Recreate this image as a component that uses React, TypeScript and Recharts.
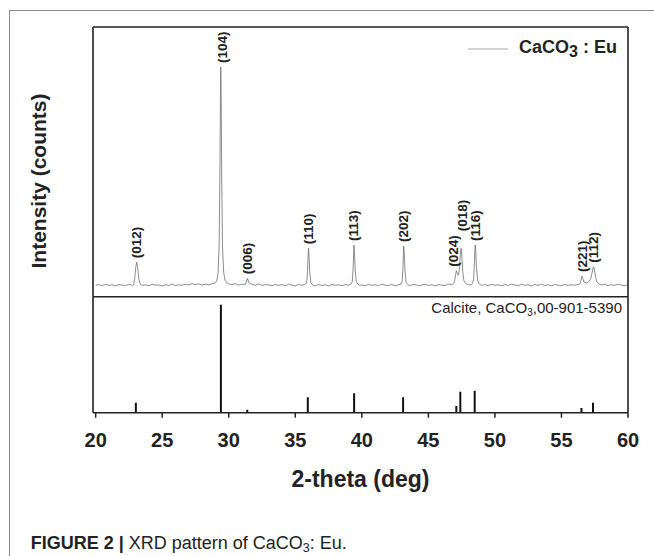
import React from 'react';
import { ComposedChart, Line, Scatter, Bar, XAxis, YAxis } from 'recharts';

const FONT = '"Liberation Sans", Arial, Helvetica, sans-serif';
const INK = '#222';
const W = 654;
const H = 556;

// measured scan, [2-theta (deg), counts]
const scan: [number, number][] = [
  [20.0, 115], [20.25, 121], [20.5, 110], [20.75, 124], [21.0, 113], [21.25, 119], [21.5, 108],
  [21.75, 122], [22.0, 116], [22.25, 111], [22.5, 125], [22.75, 114],
  [22.85, 120], [22.95, 200], [23.02, 300], [23.09, 345], [23.16, 290], [23.24, 180], [23.35, 125],
  [23.5, 112], [23.75, 120], [24.0, 109], [24.25, 123], [24.5, 115], [24.75, 118], [25.0, 107],
  [25.25, 121], [25.5, 113], [25.75, 126], [26.0, 111], [26.25, 119], [26.5, 115], [26.75, 124],
  [27.0, 118], [27.25, 131], [27.5, 122], [27.75, 128], [28.0, 116], [28.25, 125], [28.5, 119],
  [28.75, 130], [29.0, 138],
  [29.1, 160], [29.2, 240], [29.28, 520], [29.34, 1300], [29.38, 2050], [29.4, 2300], [29.43, 2000],
  [29.47, 1200], [29.53, 500], [29.62, 240], [29.72, 165], [29.85, 140],
  [30.0, 128], [30.25, 122], [30.5, 131], [30.75, 117], [31.0, 125], [31.2, 119],
  [31.3, 140], [31.41, 185], [31.52, 138],
  [31.75, 124], [32.0, 115], [32.25, 127], [32.5, 112], [32.75, 121], [33.0, 118], [33.25, 109],
  [33.5, 123], [33.75, 114], [34.0, 120], [34.25, 111], [34.5, 124], [34.75, 116], [35.0, 108],
  [35.25, 122], [35.5, 115], [35.75, 126],
  [35.85, 135], [35.92, 250], [35.96, 400], [35.99, 485], [36.03, 420], [36.08, 260], [36.17, 140],
  [36.3, 118], [36.5, 109], [36.75, 121], [37.0, 113], [37.25, 119], [37.5, 107], [37.75, 124],
  [38.0, 114], [38.25, 118], [38.5, 110], [38.75, 122], [39.0, 115], [39.2, 128],
  [39.28, 150], [39.35, 290], [39.39, 450], [39.41, 517], [39.45, 430], [39.5, 270], [39.58, 150],
  [39.7, 125],
  [39.85, 113], [40.0, 118], [40.25, 109], [40.5, 123], [40.75, 114], [41.0, 120], [41.25, 110],
  [41.5, 125], [41.75, 116], [42.0, 112], [42.25, 121], [42.5, 108], [42.75, 119], [42.95, 126],
  [43.03, 150], [43.09, 290], [43.13, 450], [43.15, 507], [43.19, 430], [43.24, 270], [43.32, 145],
  [43.45, 122],
  [43.6, 111], [43.75, 118], [44.0, 123], [44.25, 110], [44.5, 117], [44.75, 125], [45.0, 113],
  [45.25, 120], [45.5, 108], [45.75, 122], [46.0, 116], [46.25, 111], [46.5, 126], [46.75, 119],
  [46.9, 130],
  [46.98, 165], [47.05, 225], [47.1, 260], [47.16, 235], [47.24, 215], [47.33, 270], [47.4, 420],
  [47.47, 485], [47.52, 400], [47.58, 250], [47.67, 160], [47.8, 130],
  [48.0, 122], [48.2, 118], [48.32, 135],
  [48.4, 175], [48.46, 340], [48.5, 480], [48.52, 517], [48.56, 460], [48.61, 300], [48.7, 160],
  [48.82, 128],
  [49.0, 114], [49.25, 121], [49.5, 110], [49.75, 124], [50.0, 115], [50.25, 119], [50.5, 109],
  [50.75, 122], [51.0, 113], [51.25, 126], [51.5, 117], [51.75, 111], [52.0, 123], [52.25, 115],
  [52.5, 120], [52.75, 108], [53.0, 121], [53.25, 114], [53.5, 125], [53.75, 112], [54.0, 119],
  [54.25, 109], [54.5, 122], [54.75, 116], [55.0, 111], [55.25, 124], [55.5, 113], [55.75, 120],
  [56.0, 115], [56.25, 123], [56.4, 130],
  [56.47, 165], [56.52, 195], [56.55, 207], [56.6, 185], [56.68, 150], [56.78, 142],
  [56.9, 138], [57.05, 150],
  [57.2, 180], [57.3, 240], [57.36, 285], [57.42, 300], [57.48, 270], [57.56, 200], [57.66, 150],
  [57.8, 128],
  [58.0, 118], [58.25, 124], [58.5, 111], [58.75, 120], [59.0, 114], [59.25, 125], [59.5, 116],
  [59.75, 109], [60.0, 121],
];

const peakHkl = ['(012)', '(104)', '(006)', '(110)', '(113)', '(202)', '(024)', '(018)', '(116)', '(221)', '(112)'];
const peakTheta = [23.09, 29.4, 31.41, 35.99, 39.41, 43.15, 47.1, 47.47, 48.52, 56.55, 57.42];
const peakCounts = [345, 2300, 185, 485, 517, 507, 260, 485, 517, 207, 300];

// Calcite reference card 00-901-5390, relative intensity
const refTheta = [23.02, 29.41, 31.39, 35.94, 39.42, 43.1, 47.1, 47.4, 48.48, 56.5, 57.37];
const refIntensity = [9.3, 100, 2.8, 14.3, 18, 14.3, 6.2, 19.4, 20.4, 4.4, 9.3];

const xTicks = [20, 25, 30, 35, 40, 45, 50, 55, 60];

const scanData = scan.map(([x, y]) => ({ x, y }));
const peakData = peakHkl.map((hkl, i) => ({ hkl, x: peakTheta[i], y: peakCounts[i] }));
const refData = refTheta.map((x, i) => ({ x, v: refIntensity[i] }));

// small hand nudges so labels don't collide
const labelNudge: Record<string, { dx: number; dy: number }> = {
  '(104)': { dx: 2, dy: 0 },
  '(024)': { dx: -3, dy: 0 },
  '(018)': { dx: 1, dy: -13 },
};

const PeakLabel = (props: any) => {
  const { cx, cy, payload } = props;
  const n = labelNudge[payload.hkl] || { dx: 0, dy: 0 };
  return (
    <text
      transform={`translate(${cx + n.dx},${cy - 4 + n.dy}) rotate(-90)`}
      textAnchor="start"
      dominantBaseline="central"
      fontFamily={FONT}
      fontSize={13.5}
      fontWeight={700}
      fill={INK}
    >
      {payload.hkl}
    </text>
  );
};

const frame = { stroke: INK, strokeWidth: 1.6 };

export default function App() {
  return (
    <div style={{ position: 'absolute', left: 0, top: 0, width: W, height: H, background: '#fff' }}>
      <div style={{ position: 'absolute', left: 0, top: 0 }}>
        <ComposedChart width={W} height={H} data={scanData} margin={{ top: 26, right: 25, bottom: 259.3, left: 92 }}>
          <XAxis dataKey="x" type="number" domain={[19.8, 60]} orientation="top" height={1}
            tick={false} tickLine={false} axisLine={frame} allowDataOverflow />
          <YAxis yAxisId="l" type="number" domain={[0, 2700]} width={1} tick={false} tickLine={false} axisLine={frame} />
          <YAxis yAxisId="r" orientation="right" type="number" domain={[0, 2700]} width={1}
            tick={false} tickLine={false} axisLine={frame} />
          <Line yAxisId="l" type="linear" dataKey="y" stroke="#6e6e6e" strokeWidth={0.8} dot={false}
            isAnimationActive={false} />
          <Scatter yAxisId="l" data={peakData} dataKey="y" shape={PeakLabel} isAnimationActive={false} />
        </ComposedChart>
      </div>
      <div style={{ position: 'absolute', left: 0, top: 0 }}>
        <ComposedChart width={W} height={H} data={refData} margin={{ top: 295.7, right: 25, bottom: 63.3, left: 92 }}>
          <XAxis dataKey="x" type="number" domain={[19.8, 60]} ticks={xTicks} interval={0}
            tickSize={5} tickMargin={15} height={80} allowDataOverflow
            tick={{ fontSize: 20, fontWeight: 700, fill: INK, fontFamily: FONT }}
            axisLine={frame} tickLine={{ stroke: INK, strokeWidth: 1.5 }}
            label={{ value: '2-theta (deg)', position: 'insideBottom', offset: 6, fontSize: 23,
              fontWeight: 700, fill: INK, fontFamily: FONT }} />
          <XAxis xAxisId="t" dataKey="x" type="number" domain={[19.8, 60]} orientation="top" height={1}
            tick={false} tickLine={false} axisLine={frame} />
          <YAxis yAxisId="l" type="number" domain={[0, 107.4]} width={1} tick={false} tickLine={false} axisLine={frame} />
          <YAxis yAxisId="r" orientation="right" type="number" domain={[0, 107.4]} width={1}
            tick={false} tickLine={false} axisLine={frame} />
          <Bar yAxisId="l" dataKey="v" barSize={2} fill="#111" isAnimationActive={false} />
        </ComposedChart>
      </div>
      <svg width={W} height={H} style={{ position: 'absolute', left: 0, top: 0, pointerEvents: 'none' }}
        fontFamily={FONT}>
        <line x1={9} y1={10.5} x2={W} y2={10.5} stroke="#8a8a8a" strokeWidth={1} />
        <line x1={9.5} y1={10} x2={9.5} y2={H} stroke="#8a8a8a" strokeWidth={1} />
        <text transform="translate(38,181) rotate(-90)" textAnchor="middle" dominantBaseline="central"
          fontSize={21} fontWeight={700} fill={INK}>
          Intensity (counts)
        </text>
        <line x1={468} y1={49} x2={508} y2={49} stroke="#a8a8a8" strokeWidth={1} />
        <text x={519} y={53.3} fontSize={18} fontWeight={700} fill={INK}>
          CaCO<tspan fontSize={16} dy={4}>3</tspan><tspan dy={-4}>{' : Eu'}</tspan>
        </text>
        <text x={622} y={313.3} textAnchor="end" fontSize={15} fill={INK}>
          Calcite, CaCO<tspan fontSize={10} dy={3}>3</tspan><tspan dy={-3}>,00-901-5390</tspan>
        </text>
        <text x={30.7} y={549.3} fontSize={18} fill={INK}>
          <tspan fontWeight={700}>FIGURE 2 |</tspan>
          {' XRD pattern of CaCO'}
          <tspan fontSize={12.5} dy={3}>3</tspan>
          <tspan dy={-3}>: Eu.</tspan>
        </text>
      </svg>
    </div>
  );
}
